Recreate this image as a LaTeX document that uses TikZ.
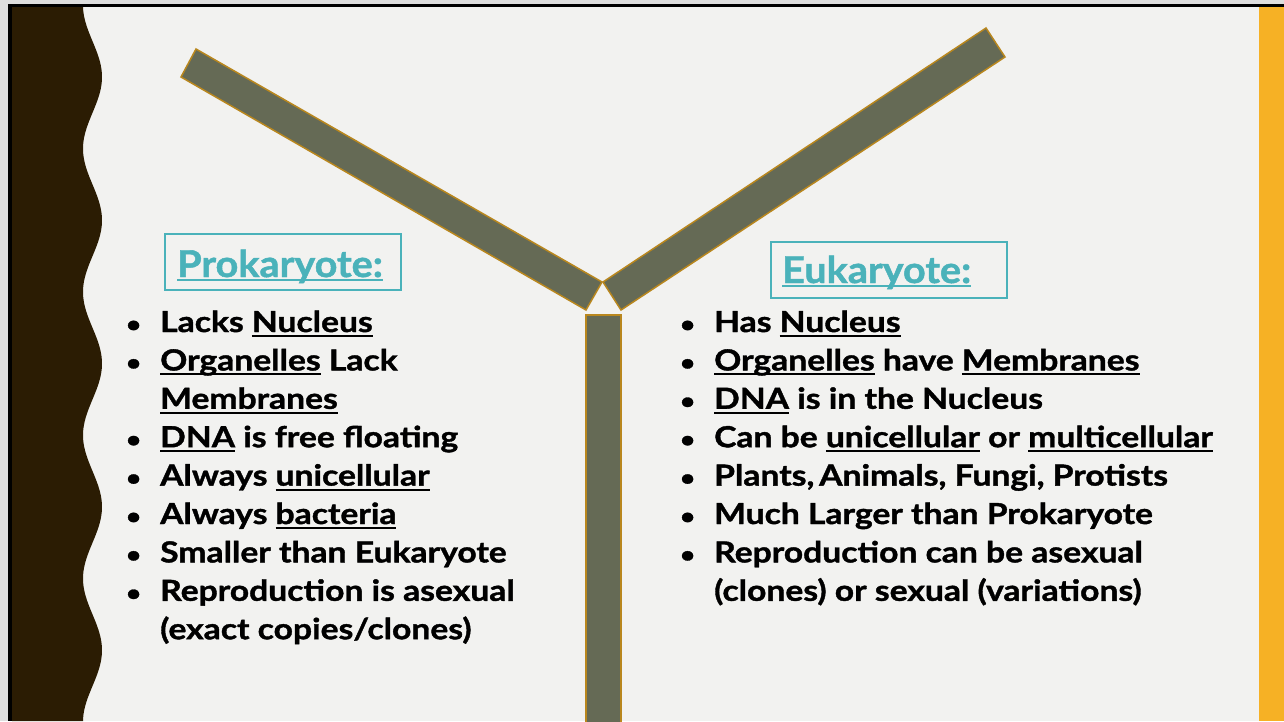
\documentclass[tikz,border=0pt]{standalone}
\usepackage{fontspec}
\setmainfont{Lato}[FakeStretch=1.16, BoldFeatures={FakeBold=1.3}]
\newfontfamily\titlef{Lato}[FakeStretch=1.07, BoldFeatures={FakeBold=1.3}]
\definecolor{bgc}{RGB}{242,242,240}
\definecolor{edgec}{RGB}{222,222,222}
\definecolor{brownc}{RGB}{43,28,3}
\definecolor{orangec}{RGB}{246,177,37}
\definecolor{armfill}{RGB}{101,106,85}
\definecolor{armline}{RGB}{185,135,30}
\definecolor{tealc}{RGB}{74,178,186}
\newcommand\myul[1]{\setbox0=\hbox{#1}\rlap{\rule[-5pt]{\wd0}{2pt}}\box0\relax}
\newcommand\myult[1]{\setbox0=\hbox{#1}\rlap{\rule[-4pt]{\wd0}{2pt}}\box0\relax}
\tikzset{
  body/.style={anchor=base west, inner sep=0pt, font=\bfseries\fontsize{29}{34}\selectfont},
  bul/.style={anchor=base west, inner sep=0pt, font=\bfseries\fontsize{22}{34}\selectfont},
  titlebox/.style={draw=tealc, line width=2pt, minimum width=236pt, minimum height=56pt, inner sep=0pt},
  titletext/.style={anchor=base west, inner sep=0pt, text=tealc, font=\titlef\bfseries\fontsize{37}{40}\selectfont},
  arm/.style={fill=armfill, draw=armline, line width=1.5pt, line join=miter}
}
\begin{document}
\begin{tikzpicture}[x=1pt,y=-1pt]
\useasboundingbox (0,0) rectangle (1284,721);
\fill[edgec] (0,0) rectangle (1284,721);
\fill[bgc] (8,7) rectangle (1284,721);
\fill[orangec] (1259,7) rectangle (1284,721);
\fill[brownc] (12,7) -- plot[domain=7:721, samples=220, variable=\t] ({92.5+9.5*cos(2.5122*(\t-77))}, \t) -- (12,721) -- cycle;
\fill[black] (8,7) rectangle (12,721);
\fill[black] (8,4) rectangle (1284,7);
% Y shape
\draw[arm] (196,49) -- (602,282) -- (586,310) -- (181,77) -- cycle;
\draw[arm] (603,282) -- (986,28) -- (1005,57) -- (621,310) -- cycle;
\draw[arm] (586,724) -- (586,315) -- (621,315) -- (621,724);
% title boxes
\node[titlebox] (pbox) at (283,262) {};
\node[titletext] (ptitle) at (177,277) {\myult{Prokaryote:}};
\node[titlebox] (ebox) at (889,269.5) {};
\node[titletext] (etitle) at (782,283) {\myult{Eukaryote:}};
% left list
\foreach \y/\n in {332/1,370.4/2,447.2/4,485.6/5,524/6,562.4/7,600.8/8}{
  \node[bul] (lb\n) at (126,\y) {\textbullet};
}
\node[body] (l1) at (160,332) {Lacks \myul{Nucleus}};
\node[body] (l2) at (160,370.4) {\myul{Organelles} Lack};
\node[body] (l3) at (160,408.8) {\myul{Membranes}};
\node[body] (l4) at (160,447.2) {\myul{DNA} is free floating};
\node[body] (l5) at (160,485.6) {Always \myul{unicellular}};
\node[body] (l6) at (160,524) {Always \myul{bacteria}};
\node[body] (l7) at (160,562.4) {Smaller than Eukaryote};
\node[body] (l8) at (160,600.8) {Reproduction is asexual};
\node[body] (l9) at (160,639.2) {(exact copies/clones)};
% right list
\foreach \y/\n in {332/1,370.4/2,408.8/3,447.2/4,485.6/5,524/6,562.4/7}{
  \node[bul] (rb\n) at (680,\y) {\textbullet};
}
\node[body] (r1) at (714,332) {Has \myul{Nucleus}};
\node[body] (r2) at (714,370.4) {\myul{Organelles} have \myul{Membranes}};
\node[body] (r3) at (714,408.8) {\myul{DNA} is in the Nucleus};
\node[body] (r4) at (714,447.2) {Can be \myul{unicellular} or \myul{multicellular}};
\node[body] (r5) at (714,485.6) {Plants,\,Animals, Fungi, Protists};
\node[body] (r6) at (714,524) {Much Larger than Prokaryote};
\node[body] (r7) at (714,562.4) {Reproduction can be asexual};
\node[body] (r8) at (714,600.8) {(clones) or sexual (variations)};
\end{tikzpicture}
\end{document}
